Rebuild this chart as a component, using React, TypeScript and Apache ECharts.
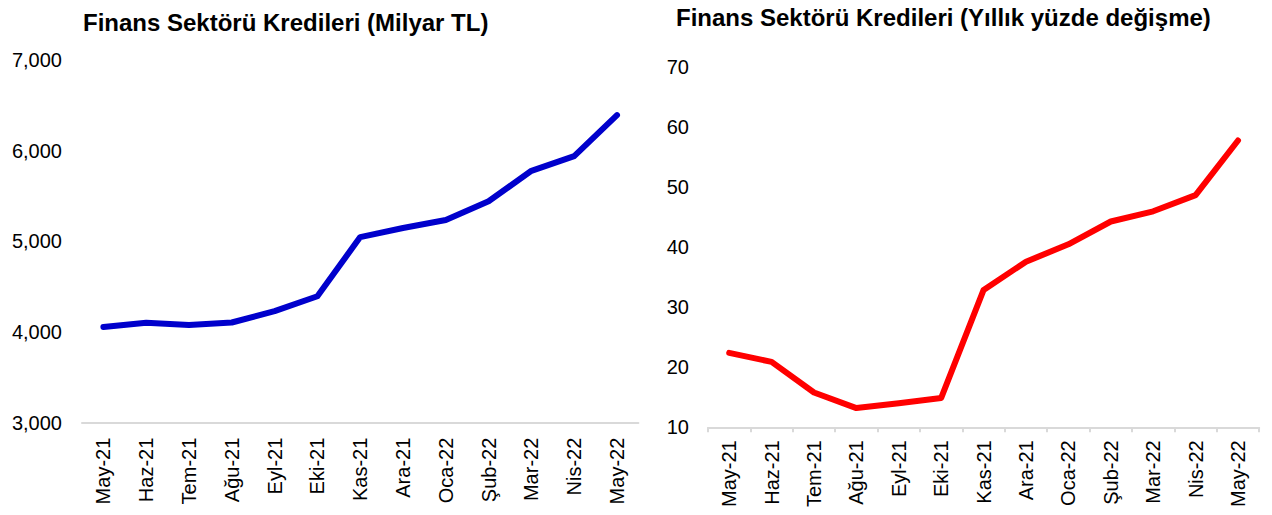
import React, { useEffect, useRef } from "react";
import * as echarts from "echarts";

const categories = [
  "May-21", "Haz-21", "Tem-21", "Ağu-21", "Eyl-21", "Eki-21", "Kas-21",
  "Ara-21", "Oca-22", "Şub-22", "Mar-22", "Nis-22", "May-22",
];
const loansBillionTL = [4055, 4103, 4077, 4105, 4230, 4395, 5047, 5147, 5235, 5442, 5778, 5940, 6392];
const loansYoYPct = [22.4, 20.9, 15.8, 13.2, 14.0, 14.9, 32.9, 37.6, 40.5, 44.3, 46.0, 48.7, 57.8];

const leftTitle = "Finans Sektörü Kredileri (Milyar TL)";
const rightTitle = "Finans Sektörü Kredileri (Yıllık yüzde değişme)";

const FONT = "'Liberation Sans', Arial, sans-serif";

export default function App() {
  const ref = useRef<HTMLDivElement>(null);
  useEffect(() => {
    if (!ref.current) return;
    const chart = echarts.init(ref.current, undefined, { renderer: "svg" });
    const axisLine = { show: true, lineStyle: { color: "#d9d9d9", width: 2 } };
    const xLabel = { rotate: 90, fontSize: 20, color: "#000", fontFamily: FONT, interval: 0 };
    const yLabel = { fontSize: 20, color: "#000", fontFamily: FONT };
    chart.setOption({
      animation: false,
      backgroundColor: "#fff",
      textStyle: { fontFamily: FONT },
      title: [
        {
          text: leftTitle,
          left: 83,
          top: 10,
          padding: 0,
          textStyle: { fontSize: 24, fontWeight: "bold", color: "#000", fontFamily: FONT },
        },
        {
          text: rightTitle,
          left: 676,
          top: 5,
          padding: 0,
          textStyle: { fontSize: 24, fontWeight: "bold", color: "#000", fontFamily: FONT },
        },
      ],
      grid: [
        { left: 82, top: 60, width: 556.4, height: 362.7, containLabel: false },
        { left: 708, top: 67.3, width: 551.2, height: 360, containLabel: false },
      ],
      xAxis: [
        {
          type: "category",
          gridIndex: 0,
          data: categories,
          boundaryGap: true,
          axisLine,
          axisTick: { show: false },
          axisLabel: { ...xLabel, margin: 15 },
        },
        {
          type: "category",
          gridIndex: 1,
          data: categories,
          boundaryGap: true,
          axisLine,
          axisTick: { show: true, length: 5, lineStyle: { color: "#d9d9d9", width: 2 } },
          axisLabel: { ...xLabel, margin: 13 },
        },
      ],
      yAxis: [
        {
          type: "value",
          gridIndex: 0,
          min: 3000,
          max: 7000,
          interval: 1000,
          axisLine: { show: false },
          axisTick: { show: false },
          splitLine: { show: false },
          axisLabel: {
            ...yLabel,
            margin: 20,
            formatter: (v: number) => v.toLocaleString("en-US"),
          },
        },
        {
          type: "value",
          gridIndex: 1,
          min: 10,
          max: 70,
          interval: 10,
          axisLine: { show: false },
          axisTick: { show: false },
          splitLine: { show: false },
          axisLabel: { ...yLabel, margin: 19 },
        },
      ],
      series: [
        {
          type: "line",
          xAxisIndex: 0,
          yAxisIndex: 0,
          data: loansBillionTL,
          symbol: "none",
          lineStyle: { color: "#0000CC", width: 6, cap: "round", join: "round" },
        },
        {
          type: "line",
          xAxisIndex: 1,
          yAxisIndex: 1,
          data: loansYoYPct,
          symbol: "none",
          lineStyle: { color: "#FF0000", width: 6, cap: "round", join: "round" },
        },
      ],
    });
    return () => chart.dispose();
  }, []);
  return (
    <div
      ref={ref}
      style={{ position: "absolute", left: 0, top: 0, width: 1272, height: 515 }}
    />
  );
}
